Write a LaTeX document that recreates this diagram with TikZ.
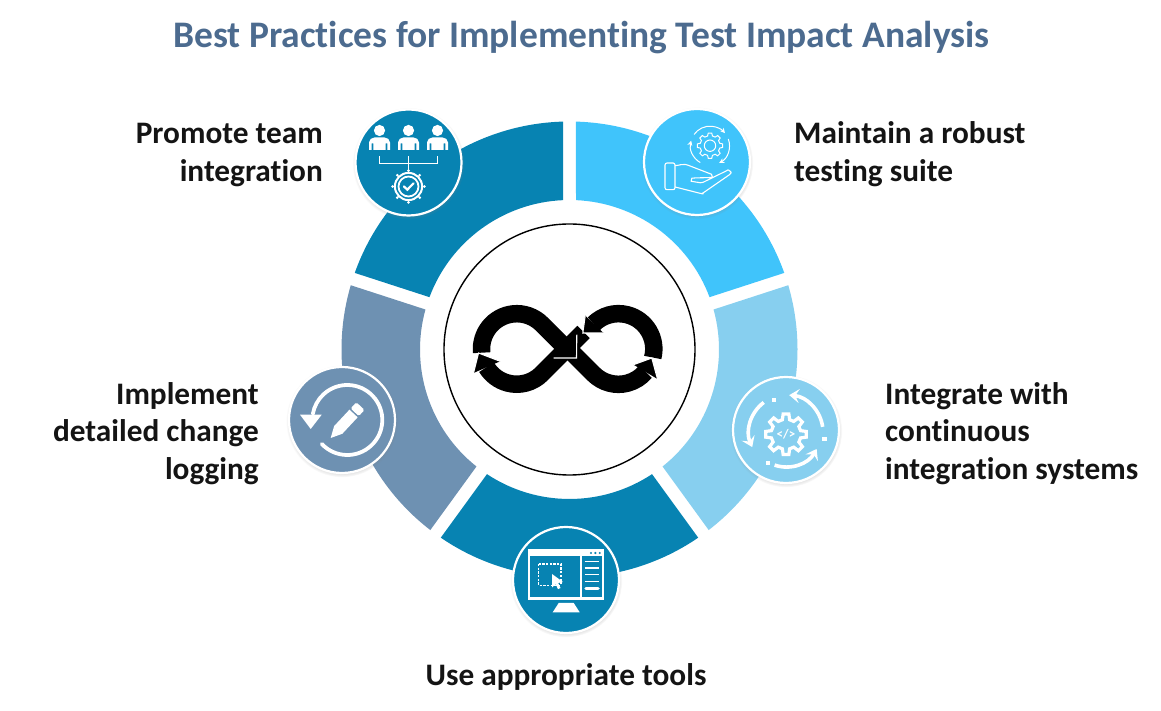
\documentclass[tikz,border=0pt]{standalone}
\usepackage{fontspec}
\setmainfont[Ligatures=NoCommon]{Carlito}
\usetikzlibrary{arrows.meta,calc,shadows}
\definecolor{titleblue}{HTML}{4C6B8F}
\definecolor{inktext}{HTML}{141414}
\definecolor{segblue}{HTML}{0783B2}
\definecolor{segsky}{HTML}{40C4FB}
\definecolor{segpale}{HTML}{87CFEF}
\definecolor{segsteel}{HTML}{6E91B2}
\tikzset{
  lbl/.style={font=\fontsize{31.3}{37.5}\selectfont\bfseries,text=inktext,inner sep=0pt},
  icondisc/.style={circle,draw=white,line width=2.2pt,minimum size=106pt,inner sep=0pt,
    circular drop shadow={shadow xshift=0pt,shadow yshift=-1pt,shadow scale=1.06,opacity=.45}},
  iconline/.style={draw=white,line width=#1,fill=none},
  iconline/.default=1pt,
  infstroke/.style={draw=black,line width=17.5pt},
  infedge/.style={draw=white,line width=1.1pt}
}
\newcommand{\gearshape}[3]{
  \draw[iconline=#3] (-14:#2) \foreach \a in {0,45,...,315} {
    -- (\a-14:#2) -- (\a-8:#1) -- (\a+8:#1) -- (\a+14:#2)
  } -- cycle;
}
\begin{document}
\begin{tikzpicture}[x=1pt,y=1pt]
  \useasboundingbox (0,0) rectangle (1161,711);
  \coordinate (hub) at (569.5,361.5);
  \begin{scope}[shift={(hub)}]
    \foreach \a/\col in {18/segsky,90/segblue,162/segsteel,234/segblue,306/segpale} {
      \fill[\col] (\a+1.63:228) arc[start angle=\a+1.63,end angle=\a+70.37,radius=228]
        -- (\a+69.51:149.5) arc[start angle=\a+69.51,end angle=\a+2.49,radius=149.5] -- cycle;
    }
  \end{scope}
  \node[circle,draw=black,fill=white,line width=1.4pt,minimum size=251pt,inner sep=0pt] (hubdisc) at (hub) {};

  \node[font=\fontsize{37.5}{42}\selectfont\bfseries,text=titleblue,inner sep=0pt] (title) at (581.5,673.5) {Best Practices for Implementing Test Impact Analysis};
  \node[lbl,align=right,anchor=east] (lblteam) at (323,556) {Promote team\\integration};
  \node[lbl,align=left,anchor=west] (lblsuite) at (794,557) {Maintain a robust\\testing suite};
  \node[lbl,align=left,anchor=west] (lblci) at (885,277.5) {Integrate with\\continuous\\integration systems};
  \node[lbl,align=right,anchor=east] (lbllog) at (259,277.5) {Implement\\detailed change\\logging};
  \node[lbl] (lbltools) at (566,34) {Use appropriate tools};

  \node[icondisc,fill=segblue] (teamdisc) at (408.5,548.5) {};
  \node[icondisc,fill=segsky] (suitedisc) at (697,549) {};
  \node[icondisc,fill=segpale] (cidisc) at (786,281) {};
  \node[icondisc,fill=segblue] (toolsdisc) at (566,131) {};
  \node[icondisc,fill=segsteel] (logdisc) at (342,291) {};

  % infinity
  \begin{scope}[shift={(567.5,362)}]
    \draw[infstroke] (16,17) -- (-25.8,-24.9) arc[start angle=-45,end angle=-149,radius=35.3];
    \draw[infstroke] (4,-3) -- (26,-25) arc[start angle=-135,end angle=-40,radius=35.3];
    \draw[infstroke] (85.25,-8.5) arc[start angle=-14,end angle=135,radius=35.3];
    \draw[infstroke] (-85.8,-3.7) arc[start angle=186,end angle=45,radius=35.3] -- (-3.4,2.5);
    \fill (9.3,14.3) -- (-14,-9) -- (9,-9) -- cycle;
    \draw[infedge] (9.3,14.3) -- (9,-9) -- (-14,-9);
    \fill (17.7,33.3) -- (36,16) -- (15.3,16) -- cycle;
    \draw[infedge] (17.7,33.3) -- (15.3,16) -- (36,16);
    \fill (-94,-24) -- (-67.3,-12.3) -- (-89,-4) -- cycle;
    \draw[infedge] (-67.3,-12.3) -- (-89,-4) -- (-94,-24);
    \fill (66,-15.7) -- (90,-30) -- (84.3,-9) -- cycle;
    \draw[infedge] (66,-15.7) -- (84.3,-9) -- (90,-30);
  \end{scope}

  % team
  \begin{scope}[shift={(teamdisc.center)}]
    \foreach \x in {-29,0,29} {
      \fill[white] (\x,32) circle (5.6);
      \fill[white] (\x-10.5,12.5) -- (\x-10.5,20) to[out=90,in=180] (\x-5,25) -- (\x+5,25)
        to[out=0,in=90] (\x+10.5,20) -- (\x+10.5,12.5) -- (\x+7.8,12.5) -- (\x+7.8,19) -- (\x+6.2,19) -- (\x+6.2,12.5)
        -- (\x-6.2,12.5) -- (\x-6.2,19) -- (\x-7.8,19) -- (\x-7.8,12.5) -- cycle;
    }
    \draw[iconline=1.6pt] (-29,6) -- (-29,-1) -- (29,-1) -- (29,6);
    \draw[iconline=1.6pt] (0,6) -- (0,-9);
    \draw[iconline=1.8pt] (0,-24) circle (10);
    \draw[iconline=2pt] (0,-24) circle (13.6);
    \foreach \a in {0,45,...,315} {
      \fill[white] ($(0,-24)+(\a:15.8)$) circle (1.5);
    }
    \draw[iconline=2.2pt,line cap=round] (-4.5,-24) -- (-1.2,-27.2) -- (5,-20.8);
  \end{scope}

  % suite
  \begin{scope}[shift={(suitedisc.center)}]
    \begin{scope}[shift={(13,16.3)}]
      \gearshape{12.7}{10}{1pt}
      \draw[iconline=1pt] (0,0) circle (5.7);
      \draw[iconline=1pt,-{Stealth[length=5pt,width=5pt]}] (145:19.5) arc[start angle=145,end angle=40,radius=19.5];
      \draw[iconline=1pt,-{Stealth[length=5pt,width=5pt]}] (240:19.5) arc[start angle=240,end angle=165,radius=19.5];
      \draw[iconline=1pt,-{Stealth[length=5pt,width=5pt]}] (20:19.5) arc[start angle=20,end angle=-62,radius=19.5];
    \end{scope}
    \draw[iconline=1.1pt,rounded corners=2pt] (-32,-1) rectangle (-22,-27.7);
    \draw[iconline=1.1pt,line join=round,rounded corners=1.5pt] (-22,-3.7) to[out=5,in=170] (-10.3,-2.7) -- (13,-11.7)
      to[out=-20,in=10] (14,-15.5) -- (-3.7,-16) to[out=190,in=170] (-4.5,-19.5) -- (4.7,-21) -- (29.7,-8.7)
      to[out=30,in=60] (33.5,-12) -- (6,-31) to[out=210,in=-10] (4.7,-31.7) -- (-22,-25);
  \end{scope}

  % ci
  \begin{scope}[shift={(cidisc.center)}]
    \begin{scope}[shift={(0,-4.3)}]
      \gearshape{20.5}{15}{3.2pt}
      \node[text=white,font=\fontsize{13}{13}\selectfont\bfseries,inner sep=0pt] (citag) at (0,0) {</>};
    \end{scope}
    \begin{scope}[shift={(0,-2)}]
      \draw[iconline=3.6pt,-{Stealth[length=10pt,width=14pt,inset=4pt]}] (8:37) arc[start angle=8,end angle=85,radius=37];
      \draw[iconline=3.6pt,-{Stealth[length=10pt,width=14pt,inset=4pt]}] (251:35) arc[start angle=251,end angle=331,radius=35];
      \draw[iconline=3.6pt,-{Stealth[length=10pt,width=14pt,inset=4pt]}] (127:37) arc[start angle=127,end angle=204,radius=37];
      \foreach \a/\r in {111/34,-10/39,240/36} {
        \fill[white] (\a:\r) ++(-2.2,-2.2) rectangle ++(4.4,4.4);
      }
    \end{scope}
  \end{scope}

  % tools
  \begin{scope}[shift={(toolsdisc.center)}]
    \fill[white] (-38.3,31) rectangle (38.3,-19.7);
    \fill[segblue] (-35.7,24.3) rectangle (13.7,-17);
    \fill[segblue] (16.3,23.7) rectangle (35.7,-17);
    \foreach \x in {25,29.3,33.7} {
      \fill[segblue] (\x,27) circle (1.2);
    }
    \foreach \y in {18.7,12,5.3,-1.3} {
      \draw[iconline=1.3pt] (18.7,\y) -- (33.3,\y);
    }
    \draw[iconline=3.5pt,line cap=round] (20,-8.7) -- (32,-8.7);
    \draw[iconline=1.3pt,dash pattern=on 2.2pt off 1.5pt] (-27.3,16) rectangle (-5,-5.3);
    \fill[white] (-14,6) -- (-3,-2) -- (-7.8,-3) -- (-5.5,-8) -- (-8,-9.2) -- (-10.3,-4.2) -- (-13.8,-7.3) -- cycle;
    \fill[white] (-7.3,-23) -- (7.7,-23) -- (13.7,-32.3) -- (-13.3,-32.3) -- cycle;
  \end{scope}

  % log
  \begin{scope}[shift={(logdisc.center)}]
    \draw[iconline=3.8pt,line cap=round] ($(5.3,0)+(223:35)$) arc[start angle=223,end angle=530,radius=35];
    \fill[white] (-42,5.3) -- (-20.3,5.3) -- (-31.3,-9) -- cycle;
    \begin{scope}[shift={(-11.3,-18)},rotate=47]
      \fill[white] (0,0) -- (11,5.6) -- (33.5,5.6) -- (33.5,-5.6) -- (11,-5.6) -- cycle;
      \fill[white,rounded corners=1.5pt] (35.2,5.6) -- (43.6,5.6) -- (43.6,-5.6) -- (35.2,-5.6) -- cycle;
    \end{scope}
  \end{scope}
\end{tikzpicture}
\end{document}
